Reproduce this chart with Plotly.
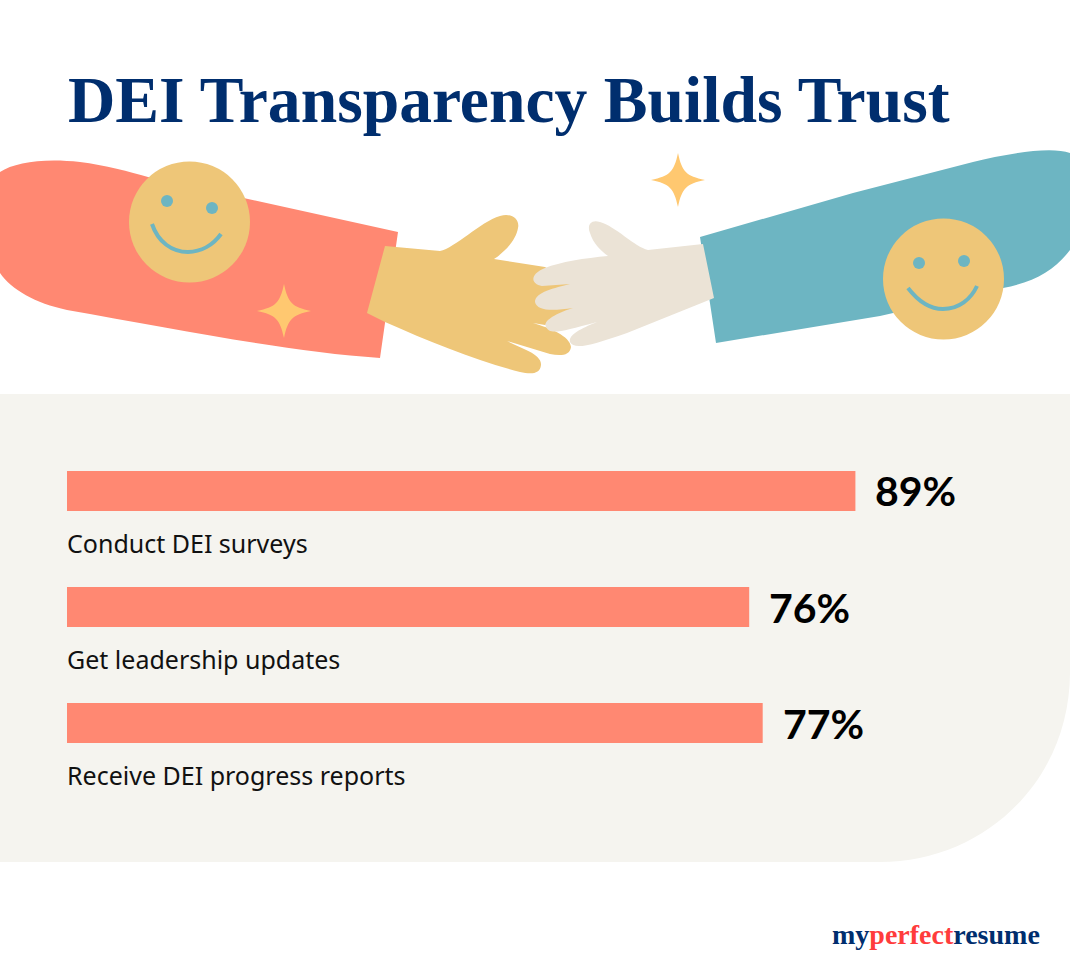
import plotly.graph_objects as go

# chart data
categories = ['Conduct DEI surveys', 'Get leadership updates', 'Receive DEI progress reports']
value_labels = ['89%', '76%', '77%']
# drawn bar lengths, the artwork's bars are not exactly to scale with the labels
bar_lengths = [87.6, 75.8, 77.3]

W = 1070
H = 976

RED = '#FF8872'
YELLOW = '#EEC678'
TEAL = '#6DB5C2'
CREAM = '#EBE3D6'
PANEL = '#F5F4EF'
STAR = '#FFC870'
NAVY = '#002E6E'
LOGO_RED = '#FF3C3C'

# artwork outlines in pixels of the 1070x976 page
panel_path = 'M0 394 H1070 V672 C1070 780 985 862 880 862 H0 Z'
red_arm = ('M0 172 C15 162 45 158 80 162 C105 165 130 172 148 177 L398 232 L380 358 '
           'C290 352 180 330 67 310 C35 303 12 290 0 273 Z')
blue_arm = ('M700 237 L853 193 L973 162 C1005 154 1050 146 1070 153 L1070 250 '
            'C1055 270 1035 282 1003 288 L880 316 L716 343 Z')
yellow_hand = ('M385 246 L440 251 C455 248 480 222 500 216 C512 212 520 220 518 228 '
               'C516 240 505 252 494 259 L545 267 L575 285 L575 310 L545 325 L533 323 '
               'C550 328 570 336 571 347 C570 356 560 356 550 354 L507 341 '
               'C520 348 542 354 541 365 C540 375 530 374 520 372 C480 362 430 342 385 322 L367 313 Z')
white_hand = ('M703 244 L648 250 C635 247 615 226 600 222 C590 219 587 226 590 233 '
              'C593 243 600 250 608 256 C585 258 560 262 545 268 C530 274 530 284 542 286 '
              'L570 284 C555 288 535 292 535 302 C537 311 552 311 573 308 C560 312 542 320 546 327 '
              'C550 335 560 332 597 322 C585 327 568 334 570 342 C574 350 590 346 627 333 '
              'L714 298 Z')
smile_left = 'M152 224 C158 242 172 252 188 252 C201 252 213 245 221 234'
smile_right = 'M908 288 C918 301 930 309 943 309 C959 309 971 299 977 286'


def star_path(cx, cy, r):
    k = r * 0.15
    return (f'M{cx} {cy-r} C{cx+k} {cy-k*2} {cx+k*2} {cy-k} {cx+r} {cy} '
            f'C{cx+k*2} {cy+k} {cx+k} {cy+k*2} {cx} {cy+r} '
            f'C{cx-k} {cy+k*2} {cx-k*2} {cy+k} {cx-r} {cy} '
            f'C{cx-k*2} {cy-k} {cx-k} {cy-k*2} {cx} {cy-r} Z')


def fill_path(path, color):
    return dict(type='path', path=path, fillcolor=color, line_width=0, xref='x', yref='y', layer='below')


def circle(cx, cy, r, color):
    return dict(type='circle', x0=cx - r, x1=cx + r, y0=cy - r, y1=cy + r, fillcolor=color,
                line_width=0, xref='x', yref='y', layer='below')


def smile(path):
    return dict(type='path', path=path, line=dict(color=TEAL, width=4), xref='x', yref='y', layer='below')


shapes = [
    fill_path(panel_path, PANEL),
    fill_path(red_arm, RED),
    fill_path(blue_arm, TEAL),
    fill_path(yellow_hand, YELLOW),
    fill_path(white_hand, CREAM),
    circle(189.5, 222, 60.5, YELLOW),
    circle(167, 201, 6, TEAL),
    circle(212, 208, 6, TEAL),
    smile(smile_left),
    circle(943.5, 279, 60.5, YELLOW),
    circle(919, 263, 6, TEAL),
    circle(964, 261, 6, TEAL),
    smile(smile_right),
    fill_path(star_path(284, 311, 27), STAR),
    fill_path(star_path(678, 180, 27), STAR),
]

fig = go.Figure()
fig.add_trace(go.Bar(x=bar_lengths, y=categories, orientation='h', marker_color=RED,
                     marker_line_width=0, xaxis='x2', yaxis='y2', hoverinfo='skip'))

annotations = [
    dict(text='<b>DEI Transparency Builds Trust</b>', x=66, y=100, xref='x', yref='y',
         xanchor='left', yanchor='middle', showarrow=False,
         font=dict(family='Liberation Serif', size=65.6, color=NAVY)),
    dict(text=f'<b>my<span style="color:{LOGO_RED}">perfect</span>resume</b>', x=1042, y=934,
         xref='x', yref='y', xanchor='right', yanchor='middle', showarrow=False,
         font=dict(family='Liberation Serif', size=28, color=NAVY)),
]
for cat, length, label in zip(categories, bar_lengths, value_labels):
    annotations.append(dict(text=f'<b>{label}</b>', x=length, y=cat, xref='x2', yref='y2', xshift=18,
                            xanchor='left', yanchor='middle', showarrow=False,
                            font=dict(family='Lato', size=41, color='#000000')))
    annotations.append(dict(text=cat, x=0, y=cat, xref='x2', yref='y2', xshift=-2, yshift=-52,
                            xanchor='left', yanchor='middle', showarrow=False,
                            font=dict(family='Noto Sans', size=25, color='#111111')))

fig.update_layout(
    width=W, height=H, margin=dict(l=0, r=0, t=0, b=0), showlegend=False,
    paper_bgcolor='white', plot_bgcolor='rgba(0,0,0,0)', bargap=1 - 40 / 116,
    shapes=shapes, annotations=annotations,
    xaxis=dict(range=[0, W], domain=[0, 1], visible=False, fixedrange=True),
    yaxis=dict(range=[H, 0], domain=[0, 1], visible=False, fixedrange=True),
    xaxis2=dict(range=[0, 100], domain=[67 / W, 967 / W], anchor='y2', visible=False, fixedrange=True),
    yaxis2=dict(domain=[1 - 781 / H, 1 - 433 / H], anchor='x2', range=[2.5, -0.5], visible=False,
                fixedrange=True),
)

fig.write_html('out.html', post_script="document.body.style.margin='0';", config=dict(displayModeBar=False))
